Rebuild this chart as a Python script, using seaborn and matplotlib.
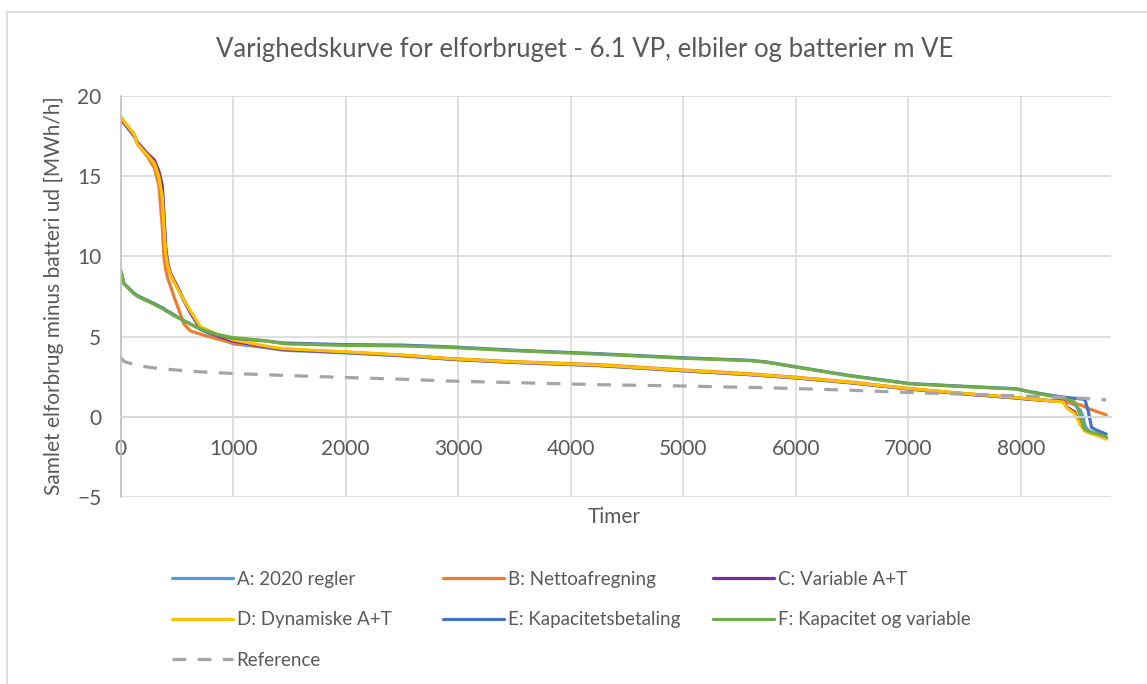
import numpy as np
import pandas as pd
import seaborn as sns
import matplotlib.pyplot as plt
from matplotlib.patches import Rectangle
from matplotlib.lines import Line2D

# hours of the year (sorted duration curve)
hours = [0, 30, 120, 150, 240, 300, 340, 370, 385, 400,
         415, 440, 475, 505, 560, 620, 710, 860, 1000, 1300,
         1450, 2000, 2500, 2930, 3500, 4260, 5000, 5600, 5740, 6000,
         6480, 7020, 7500, 7960, 8080, 8260, 8380, 8410, 8480, 8530,
         8555, 8570, 8600, 8630, 8680, 8760]

a_2020 = [18.6, 18.35, 17.55, 17.05, 16.35, 15.9, 15.1, 14.0, 12.2, 10.4,
          9.6, 8.95, 8.45, 8.05, 7.25, 6.5, 5.45, 4.95, 4.55, 4.3,
          4.15, 3.98, 3.8, 3.58, 3.38, 3.18, 2.86, 2.62, 2.55, 2.42,
          2.12, 1.72, 1.42, 1.17, 1.09, 1.02, 1.0, 0.95, 0.75, 0.4,
          0.0, -0.55, -0.85, -0.98, -1.1, -1.3]
b_netto = [18.7, 18.4, 17.6, 17.0, 16.2, 15.5, 14.4, 11.8, 9.9, 9.2,
           8.7, 8.2, 7.45, 6.9, 5.8, 5.35, 5.15, 4.85, 4.6, 4.35,
           4.2, 4.03, 3.84, 3.63, 3.44, 3.25, 2.92, 2.68, 2.6, 2.47,
           2.17, 1.75, 1.45, 1.18, 1.1, 1.0, 0.95, 0.9, 0.82, 0.74,
           0.68, 0.62, 0.52, 0.44, 0.32, 0.12]
c_variable = [18.5, 18.3, 17.5, 17.1, 16.4, 16.0, 15.3, 14.4, 12.6, 10.6,
              9.7, 9.0, 8.5, 8.1, 7.3, 6.5, 5.5, 5.05, 4.72, 4.35,
              4.2, 4.02, 3.82, 3.6, 3.4, 3.2, 2.88, 2.63, 2.56, 2.43,
              2.13, 1.73, 1.43, 1.18, 1.1, 1.0, 0.97, 0.6, 0.3, -0.4,
              -0.7, -0.85, -0.95, -1.03, -1.13, -1.35]
d_dynamisk = [18.7, 18.4, 17.6, 17.0, 16.3, 15.8, 14.95, 13.7, 11.8, 10.2,
              9.5, 8.9, 8.4, 8.0, 7.3, 6.6, 5.6, 5.15, 4.8, 4.4,
              4.25, 4.05, 3.85, 3.62, 3.42, 3.22, 2.9, 2.65, 2.58, 2.45,
              2.15, 1.75, 1.45, 1.2, 1.12, 1.0, 0.92, 0.55, 0.2, -0.5,
              -0.75, -0.88, -0.98, -1.05, -1.15, -1.4]
e_kapacitet = [9.1, 8.3, 7.7, 7.55, 7.25, 7.05, 6.9, 6.8, 6.75, 6.65,
               6.6, 6.5, 6.35, 6.22, 6.0, 5.78, 5.45, 5.1, 4.9, 4.72,
               4.6, 4.5, 4.47, 4.36, 4.15, 3.93, 3.68, 3.52, 3.42, 3.12,
               2.57, 2.07, 1.9, 1.75, 1.57, 1.35, 1.23, 1.2, 1.15, 1.12,
               1.1, 1.1, 0.37, -0.67, -0.85, -1.08]
f_kap_var = [9.1, 8.27, 7.65, 7.5, 7.2, 7.0, 6.85, 6.75, 6.7, 6.6,
             6.55, 6.45, 6.3, 6.2, 6.0, 5.78, 5.48, 5.12, 4.94, 4.73,
             4.55, 4.45, 4.42, 4.32, 4.12, 3.9, 3.65, 3.5, 3.4, 3.1,
             2.55, 2.05, 1.88, 1.73, 1.55, 1.3, 1.2, 1.1, 0.92, 0.1,
             -0.6, -0.78, -0.88, -0.95, -1.05, -1.25]
reference = [3.7, 3.45, 3.25, 3.2, 3.1, 3.05, 3.02, 3.0, 2.99, 2.98,
             2.97, 2.95, 2.93, 2.91, 2.88, 2.84, 2.8, 2.75, 2.7, 2.62,
             2.58, 2.45, 2.34, 2.23, 2.13, 2.0, 1.92, 1.83, 1.81, 1.76,
             1.66, 1.51, 1.41, 1.31, 1.28, 1.23, 1.2, 1.19, 1.17, 1.16,
             1.15, 1.15, 1.13, 1.12, 1.1, 1.05]

names = ['A: 2020 regler', 'B: Nettoafregning', 'C: Variable A+T',
         'D: Dynamiske A+T', 'E: Kapacitetsbetaling', 'F: Kapacitet og variable',
         'Reference']
series = [a_2020, b_netto, c_variable, d_dynamisk, e_kapacitet, f_kap_var, reference]
colors = ['#5B9BD5', '#ED7D31', '#7030A0', '#FFC000', '#4472C4', '#70AD47', '#A5A5A5']

# long format table for seaborn
df = pd.concat([pd.DataFrame({'Timer': hours, 'MWh': vals, 'Scenarie': name})
                for name, vals in zip(names, series)], ignore_index=True)

sns.set_style('white')
plt.rcParams['font.family'] = ['Lato', 'DejaVu Sans']
txt_col = '#595959'
grid_col = '#D9D9D9'

fig = plt.figure(figsize=(11.47, 6.84), dpi=100)
ax = fig.add_axes([120.7 / 1147, 1 - 497 / 684, 990 / 1147, 401 / 684])

palette = dict(zip(names, colors))
dashes = {n: '' for n in names}
dashes['Reference'] = (4.3, 3.6)
sns.lineplot(data=df, x='Timer', y='MWh', hue='Scenarie', style='Scenarie',
             palette=palette, dashes=dashes, linewidth=2.3, estimator=None,
             sort=False, legend=False, ax=ax)

ax.set_xlim(0, 8800)
ax.set_ylim(-5, 20)
ax.set_xticks(np.arange(0, 8001, 1000))
ax.set_yticks(np.arange(-5, 21, 5))
ax.grid(True, color=grid_col, linewidth=1.2)
ax.set_axisbelow(True)
for s in ['top', 'right']:
    ax.spines[s].set_visible(False)
ax.spines['left'].set_color('#BFBFBF')
ax.spines['left'].set_linewidth(1.2)
ax.spines['bottom'].set_position(('data', 0))
ax.spines['bottom'].set_color(grid_col)
ax.spines['bottom'].set_linewidth(1.2)
ax.tick_params(axis='both', length=0, labelsize=15, labelcolor=txt_col)
ax.tick_params(axis='x', pad=16)
ax.tick_params(axis='y', pad=14)
ax.set_xlabel('')
ax.set_ylabel('')

fig.text(585 / 1147, 1 - 49 / 684, 'Varighedskurve for elforbruget - 6.1 VP, elbiler og batterier m VE',
         ha='center', va='center', fontsize=18.5, color=txt_col)
fig.text(54 / 1147, 1 - 296 / 684, 'Samlet elforbrug minus batteri ud [MWh/h]',
         ha='center', va='center', rotation=90, fontsize=15, color=txt_col)
fig.text(614 / 1147, 1 - 517 / 684, 'Timer', ha='center', va='center',
         fontsize=15, color=txt_col)

# legend: three fixed-width columns like the original
handles = [Line2D([], [], color=c, linewidth=2.3,
                  linestyle=(0, (4.3, 3.6)) if n == 'Reference' else '-')
           for n, c in zip(names, colors)]
cols = [[0, 3, 6], [1, 4], [2, 5]]
col_x = [172, 443, 713]
for cx, idx in zip(col_x, cols):
    leg = fig.legend([handles[i] for i in idx], [names[i] for i in idx],
                     loc='upper left', bbox_to_anchor=(cx / 1147, 1 - 571 / 684),
                     frameon=False, fontsize=13.5, labelcolor=txt_col,
                     handlelength=3.25, handletextpad=0.2, labelspacing=1.25,
                     borderpad=0, borderaxespad=0)

# chart area border
fig.patches.append(Rectangle((7 / 1147, -0.05), 1.2, 1 - 12 / 684 + 0.05,
                             transform=fig.transFigure, fill=False,
                             edgecolor='#D9D9D9', linewidth=1.2))

fig.savefig('out.png', dpi=100)
